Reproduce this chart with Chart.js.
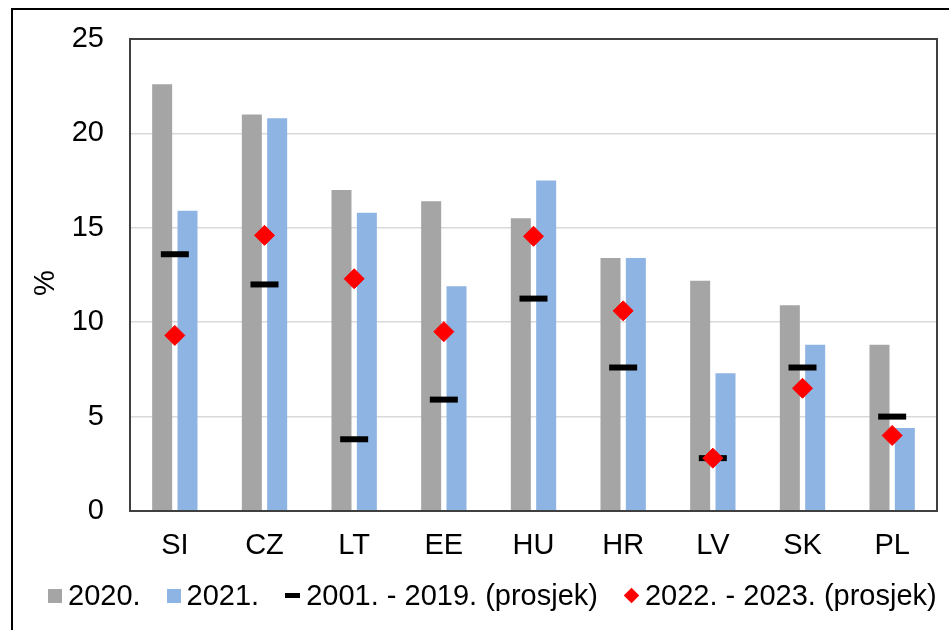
<!DOCTYPE html>
<html>
<head>
<meta charset="utf-8">
<script src="https://cdn.jsdelivr.net/npm/chart.js@4"></script>
<style>
  html, body { margin: 0; padding: 0; background: #ffffff; width: 949px; height: 630px; overflow: hidden; }
  #wrap { position: relative; width: 949px; height: 630px; }
  #c { position: absolute; left: 0; top: 0; }
  #frame { position: absolute; left: 11px; top: 8px; width: 1000px; height: 700px;
           border-left: 2px solid #000; border-top: 2px solid #000; pointer-events: none; }
  #legend { position: absolute; left: 48px; top: 581px; height: 29px; display: flex; align-items: center;
            font-family: "Liberation Sans", Arial, sans-serif; font-size: 29px; line-height: 29px; color: #000; white-space: nowrap; }
  .item { display: flex; align-items: center; margin-right: 26px; }
  .mk { display: inline-block; margin-right: 6px; }
</style>
</head>
<body>
<div id="wrap">
  <canvas id="c" width="949" height="630"></canvas>
  <div id="frame"></div>
  <div id="legend"></div>
</div>
<script>
const categories = ['SI', 'CZ', 'LT', 'EE', 'HU', 'HR', 'LV', 'SK', 'PL'];
const seriesNames = ['2020.', '2021.', '2001. - 2019. (prosjek)', '2022. - 2023. (prosjek)'];
const values2020 = [22.6, 21.0, 17.0, 16.4, 15.5, 13.4, 12.2, 10.9, 8.8];
const values2021 = [15.9, 20.8, 15.8, 11.9, 17.5, 13.4, 7.3, 8.8, 4.4];
const avg2001_2019 = [13.6, 12.0, 3.8, 5.9, 11.25, 7.6, 2.8, 7.6, 5.0];
const avg2022_2023 = [9.3, 14.6, 12.3, 9.5, 14.55, 10.6, 2.8, 6.5, 4.0];
const yTicks = [0, 5, 10, 15, 20, 25];
const yTitle = '%';

const FONT = '"Liberation Sans", Arial, sans-serif';
const colGray = '#A5A5A5';
const colBlue = '#8EB4E3';
const colRed = '#FF0000';
const colBlack = '#000000';

const plotBorder = {
  id: 'plotBorder',
  afterDatasetsDraw(chart) {
    const a = chart.chartArea, ctx = chart.ctx;
    ctx.save();
    ctx.strokeStyle = '#404040';
    ctx.lineWidth = 2;
    ctx.strokeRect(a.left, a.top, a.right - a.left, a.bottom - a.top);
    ctx.restore();
  }
};

const chart = new Chart(document.getElementById('c'), {
  type: 'bar',
  data: {
    labels: categories,
    datasets: [
      { label: seriesNames[0], data: values2020, backgroundColor: colGray, order: 3,
        categoryPercentage: 0.565, barPercentage: 0.79 },
      { label: seriesNames[1], data: values2021, backgroundColor: colBlue, order: 4,
        categoryPercentage: 0.565, barPercentage: 0.79 },
      { type: 'line', label: seriesNames[2], data: avg2001_2019, showLine: false, order: 2,
        pointStyle: 'line', pointRadius: 14, pointBorderWidth: 6, borderColor: colBlack,
        pointBorderColor: colBlack, backgroundColor: colBlack, pointHoverRadius: 14 },
      { type: 'line', label: seriesNames[3], data: avg2022_2023, showLine: false, order: 1,
        pointStyle: 'rectRot', pointRadius: 10, pointBorderWidth: 1, borderColor: colRed,
        pointBorderColor: colRed, pointBackgroundColor: colRed, backgroundColor: colRed, pointHoverRadius: 10 }
    ]
  },
  options: {
    responsive: false,
    animation: false,
    events: [],
    layout: { autoPadding: false, padding: { left: 0, top: 39, right: 12, bottom: 59 } },
    plugins: { legend: { display: false }, tooltip: { enabled: false } },
    scales: {
      x: {
        grid: { display: false, drawTicks: false },
        border: { display: false },
        ticks: { color: '#000', font: { family: FONT, size: 29 }, padding: 18, maxRotation: 0 },
        afterFit(scale) { scale.height = 60; scale.paddingLeft = 0; scale.paddingRight = 0; }
      },
      y: {
        min: 0, max: 25,
        afterBuildTicks(scale) { scale.ticks = yTicks.map(v => ({ value: v })); },
        grid: { color: '#D9D9D9', lineWidth: 1.5, drawTicks: false },
        border: { display: false },
        ticks: { color: '#000', font: { family: FONT, size: 29 }, padding: 26 },
        title: { display: true, text: yTitle + '  ', color: '#000',
                 font: { family: FONT, size: 29, lineHeight: 1 }, padding: { top: 31, bottom: 0 } },
        afterFit(scale) { scale.width = 130; scale.paddingTop = 0; scale.paddingBottom = 0; }
      }
    }
  },
  plugins: [plotBorder]
});

// HTML legend built from the chart's datasets
const legendEl = document.getElementById('legend');
chart.data.datasets.forEach((ds, i) => {
  const item = document.createElement('div');
  item.className = 'item';
  if (i === chart.data.datasets.length - 1) item.style.marginRight = '0';
  const mk = document.createElement('span');
  mk.className = 'mk';
  if (ds.type === 'line' && ds.pointStyle === 'line') {
    mk.style.width = '15px'; mk.style.height = '5px'; mk.style.background = ds.pointBorderColor;
  } else if (ds.type === 'line') {
    mk.style.width = '11px'; mk.style.height = '11px'; mk.style.background = ds.pointBackgroundColor;
    mk.style.transform = 'rotate(45deg)'; mk.style.margin = '0 8px 0 2px';
  } else {
    mk.style.width = '14px'; mk.style.height = '14px'; mk.style.background = ds.backgroundColor;
  }
  const tx = document.createElement('span');
  tx.textContent = ds.label;
  item.appendChild(mk); item.appendChild(tx);
  legendEl.appendChild(item);
});
</script>
</body>
</html>
